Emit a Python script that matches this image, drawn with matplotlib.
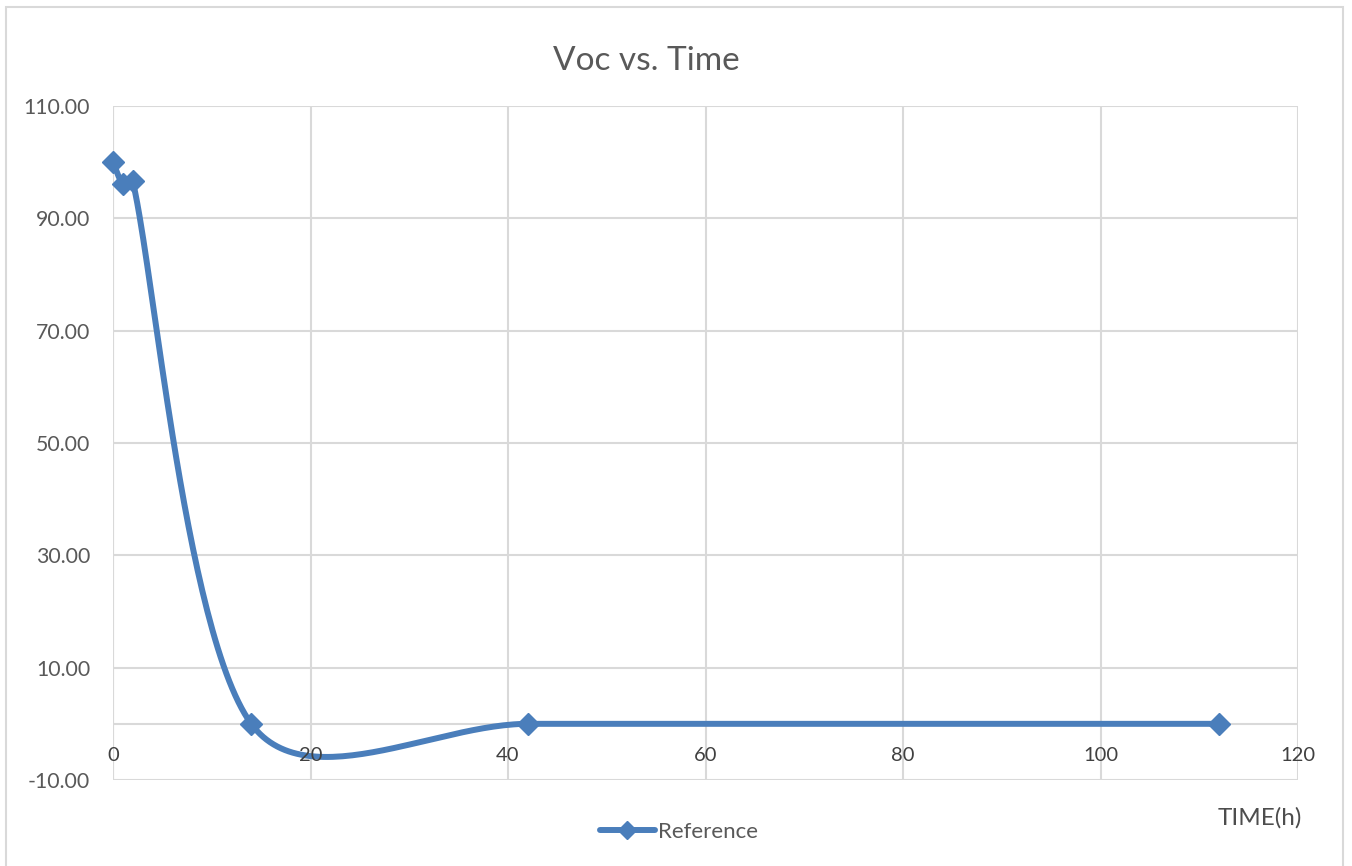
import numpy as np
import matplotlib
matplotlib.use("Agg")
import matplotlib.pyplot as plt
from matplotlib.patches import Rectangle
from matplotlib.lines import Line2D
from matplotlib.transforms import offset_copy

# Data
time_h = [0, 1, 2, 14, 42, 112]
voc = [100.0, 96.1, 96.6, 0.0, 0.0, 0.0]

x_ticks = [0, 20, 40, 60, 80, 100, 120]
y_ticks = [-10, 10, 30, 50, 70, 90, 110]

title = "Voc vs. Time"
x_title = "TIME(h)"
series_name = "Reference"

LINE_BLUE = "#4a7ebb"
GRID = "#d9d9d9"
TEXT = "#595959"
TICK_X = "#404040"

plt.rcParams["font.family"] = ["Lato", "DejaVu Sans"]

W, H, DPI = 1352, 866, 100
fig = plt.figure(figsize=(W / DPI, H / DPI), dpi=DPI)
fig.patch.set_facecolor("white")

# plot area in pixels
L, R, T, B = 113, 1298, 106, 780
ax = fig.add_axes([L / W, (H - B) / H, (R - L) / W, (B - T) / H])
ax.set_xlim(0, 120)
ax.set_ylim(-10, 110)


def smooth_curve(xs, ys, sx, sy, n=60, f=1 / 6, lim=1 / 3):
    """Bezier smoothing of a polyline, computed in screen-proportional space."""
    P = np.column_stack([np.asarray(xs, float) * sx, np.asarray(ys, float) * sy])
    out = []
    m = len(P)
    for i in range(m - 1):
        p0 = P[i - 1] if i > 0 else P[i]
        p1, p2 = P[i], P[i + 1]
        p3 = P[i + 2] if i + 2 < m else P[i + 1]
        d12 = np.linalg.norm(p2 - p1)
        v1 = (p2 - p0) * f
        v2 = (p3 - p1) * f
        for v in (v1, v2):
            nv = np.linalg.norm(v)
            if nv > d12 * lim and nv > 0:
                v *= d12 * lim / nv
        c1, c2 = p1 + v1, p2 - v2
        t = np.linspace(0, 1, n)[:, None]
        seg = ((1 - t) ** 3) * p1 + 3 * ((1 - t) ** 2) * t * c1 + 3 * (1 - t) * t ** 2 * c2 + t ** 3 * p2
        out.append(seg if i == 0 else seg[1:])
    S = np.vstack(out)
    return S[:, 0] / sx, S[:, 1] / sy


sx = (R - L) / 120.0
sy = (B - T) / 120.0
cx, cy = smooth_curve(time_h, voc, sx, sy)

# grid
ax.set_xticks(x_ticks)
ax.set_yticks(y_ticks)
ax.grid(True, color=GRID, linewidth=1.5)
ax.set_axisbelow(True)
for s in ax.spines.values():
    s.set_visible(False)
ax.axhline(0, color=GRID, linewidth=1.5, zorder=1)
ax.axvline(0, color=GRID, linewidth=1.5, zorder=1)
ax.tick_params(axis="both", length=0)
ax.set_xticklabels([])
ax.set_yticklabels([f"{v:.2f}" for v in y_ticks], color=TEXT, fontsize=15.3)
ax.tick_params(axis="y", pad=16.5)

# curve and markers
ax.plot(cx, cy, color=LINE_BLUE, linewidth=4.3, solid_capstyle="round", zorder=3,
        clip_on=False)
ax.plot(time_h, voc, linestyle="none", marker="D", markersize=11.5,
        color=LINE_BLUE, markeredgecolor=LINE_BLUE, zorder=4, clip_on=False)

# x tick labels sit just below the horizontal axis at y = 0
label_tf = offset_copy(ax.transData, fig=fig, x=0, y=-32, units="dots")
for xv in x_ticks:
    ax.text(xv, 0, str(xv), transform=label_tf, ha="center", va="center",
            fontsize=14.5, color=TICK_X, zorder=6)

# title
fig.text(646 / W, 1 - 61 / H, title, ha="center", va="center", fontsize=24, color=TEXT)

# axis title
fig.text(1302 / W, 1 - 818 / H, x_title, ha="right", va="center", fontsize=17.5,
         color="#4d4d4d")

# legend
leg_handle = Line2D([], [], color=LINE_BLUE, linewidth=4.3, marker="D",
                    markersize=9.5, markevery=[1], solid_capstyle="round")
fig.legend([leg_handle], [series_name], loc="center", bbox_to_anchor=(679 / W, 1 - 832 / H),
           frameon=False, fontsize=16, labelcolor=TEXT, handlelength=2.5,
           handletextpad=0.15)

# chart border
fig.patches.append(Rectangle((6 / W, -0.05), (1343 - 6) / W, 1.05 - 7 / H,
                             transform=fig.transFigure, fill=False,
                             edgecolor=GRID, linewidth=1.5))

fig.savefig("out.png", dpi=DPI)
